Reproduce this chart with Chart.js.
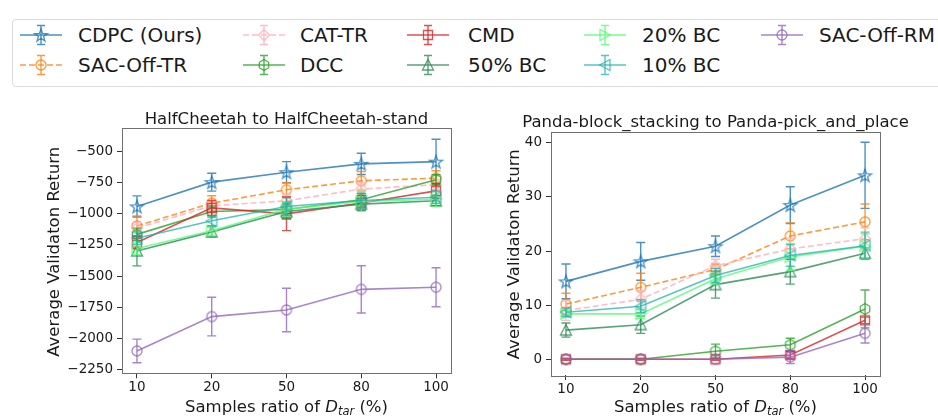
<!DOCTYPE html>
<html><head><meta charset="utf-8">
<script src="https://cdn.jsdelivr.net/npm/chart.js@4.4.0/dist/chart.umd.min.js"></script>
<style>
html,body{margin:0;padding:0;background:#fff;}
body{width:938px;height:419px;position:relative;overflow:hidden;font-family:"DejaVu Sans",sans-serif;}
#legendBox{position:absolute;left:12px;top:19px;width:960px;height:68px;border:1px solid #dcdcdc;border-radius:4px;box-sizing:border-box;}
.lg{position:absolute;font-size:20px;line-height:24px;color:#1a1a1a;white-space:nowrap;font-family:"DejaVu Sans",sans-serif;}
.hd{position:absolute;}
#c1{position:absolute;left:0;top:95px;}
#c2{position:absolute;left:469px;top:95px;}
</style></head><body>
<div id="legendBox"></div>
<canvas id="c1" width="469" height="324"></canvas>
<canvas id="c2" width="469" height="324"></canvas>
<script>
// ---------------- DATA ----------------
const categories = ['10', '20', '50', '80', '100'];
const seriesNames = ['CDPC (Ours)', 'SAC-Off-TR', 'CAT-TR', 'DCC', 'CMD', '50% BC', '20% BC', '10% BC', 'SAC-Off-RM'];

const hcTitle = 'HalfCheetah to HalfCheetah-stand';
const hcTicks = [-2250, -2000, -1750, -1500, -1250, -1000, -750, -500];
const hcCDPC      = [-940, -745, -665, -598, -580];
const hcCDPCErr   = [85, 72, 85, 85, 180];
const hcSACTR     = [-1097, -914, -806, -734, -713];
const hcSACTRErr  = [80, 60, 56, 75, 60];
const hcCATTR     = [-1115, -935, -895, -800, -766];
const hcCATTRErr  = [45, 40, 50, 50, 40];
const hcDCC       = [-1165, -981, -965, -887, -726];
const hcDCCErr    = [50, 45, 60, 50, 40];
const hcCMD       = [-1231, -952, -1000, -912, -815];
const hcCMDErr    = [50, 60, 135, 60, 60];
const hcBC50      = [-1298, -1145, -981, -922, -895];
const hcBC50Err   = [120, 40, 60, 50, 40];
const hcBC20      = [-1278, -1136, -962, -900, -882];
const hcBC20Err   = [50, 40, 60, 80, 60];
const hcBC10      = [-1196, -1056, -941, -893, -866];
const hcBC10Err   = [50, 40, 70, 60, 50];
const hcSACRM     = [-2102, -1826, -1773, -1607, -1590];
const hcSACRMErr  = [95, 155, 175, 190, 157];

const pdTitle = 'Panda-block_stacking to Panda-pick_and_place';
const pdTicks = [0, 10, 20, 30, 40];
const pdCDPC      = [14.4, 18.1, 20.9, 28.5, 34.0];
const pdCDPCErr   = [3.2, 3.5, 1.9, 3.4, 6.1];
const pdSACTR     = [10.2, 13.3, 16.6, 22.8, 25.4];
const pdSACTRErr  = [2.0, 2.6, 1.0, 2.4, 3.3];
const pdCATTR     = [9.0, 11.1, 17.3, 20.4, 22.3];
const pdCATTRErr  = [1.8, 1.6, 1.2, 2.0, 2.0];
const pdDCC       = [0, 0, 1.5, 2.7, 9.3];
const pdDCCErr    = [0, 0, 1.3, 1.2, 3.5];
const pdCMD       = [0, 0, 0, 0.8, 7.2];
const pdCMDErr    = [0.2, 0.2, 0.2, 0.6, 0.6];
const pdBC50      = [5.4, 6.4, 13.8, 16.2, 19.6];
const pdBC50Err   = [1.3, 1.6, 2.5, 2.3, 1.0];
const pdBC20      = [8.4, 8.4, 14.9, 18.9, 20.9];
const pdBC20Err   = [0.6, 0.8, 1.0, 2.5, 2.3];
const pdBC10      = [8.7, 9.8, 15.5, 19.2, 21.0];
const pdBC10Err   = [0.8, 1.2, 1.3, 2.0, 2.5];
const pdSACRM     = [0, 0, 0, 0.4, 4.8];
const pdSACRMErr  = [0, 0, 0, 1.2, 1.8];

const yLabel = 'Average Validaton Return';
const xLabelParts = ['Samples ratio of ', 'D', 'tar', ' (%)'];

// ---------------- STYLES ----------------
const styleList = [
  {color: 'rgba(31,119,180,0.8)',  marker: 'star',     dash: []},
  {color: 'rgba(255,127,14,0.8)',  marker: 'circle',   dash: [6, 3]},
  {color: 'rgba(255,182,193,0.9)', marker: 'diamond',  dash: [6, 3]},
  {color: 'rgba(44,160,44,0.8)',   marker: 'hexagon',  dash: []},
  {color: 'rgba(214,39,40,0.8)',   marker: 'square',   dash: []},
  {color: 'rgba(46,139,87,0.8)',   marker: 'triUp',    dash: []},
  {color: 'rgba(90,250,120,0.8)',  marker: 'triRight', dash: []},
  {color: 'rgba(32,178,170,0.75)', marker: 'triLeft',  dash: []},
  {color: 'rgba(148,103,189,0.8)', marker: 'circle',   dash: []},
];
const FONT = '"DejaVu Sans"';
const TXT = '#1a1a1a';

function poly(ctx, pts) {
  ctx.moveTo(pts[0][0], pts[0][1]);
  for (let k = 1; k < pts.length; k++) ctx.lineTo(pts[k][0], pts[k][1]);
  ctx.closePath();
}
function markerPath(ctx, shape, cx, cy) {
  ctx.beginPath();
  if (shape === 'circle') { ctx.arc(cx, cy, 5, 0, 2 * Math.PI); return; }
  if (shape === 'square') { ctx.rect(cx - 4.5, cy - 4.5, 9, 9); return; }
  let pts = [];
  if (shape === 'diamond') pts = [[0, -5.5], [5.5, 0], [0, 5.5], [-5.5, 0]];
  if (shape === 'star') {
    for (let k = 0; k < 10; k++) {
      const r = k % 2 === 0 ? 6.8 : 2.7;
      const a = -Math.PI / 2 + k * Math.PI / 5;
      pts.push([r * Math.cos(a), r * Math.sin(a) + 0.6]);
    }
  }
  if (shape === 'hexagon') {
    for (let k = 0; k < 6; k++) { const a = -Math.PI / 2 + k * Math.PI / 3; pts.push([5.4 * Math.cos(a), 5.4 * Math.sin(a)]); }
  }
  if (shape === 'triUp') pts = [[0, -5.5], [5.5, 5], [-5.5, 5]];
  if (shape === 'triRight') pts = [[5.5, 0], [-5, 5.5], [-5, -5.5]];
  if (shape === 'triLeft') pts = [[-5.5, 0], [5, 5.5], [5, -5.5]];
  poly(ctx, pts.map(p => [p[0] + cx, p[1] + cy]));
}
function drawMarker(ctx, st, cx, cy) {
  ctx.save();
  ctx.setLineDash([]);
  ctx.lineWidth = 1.3;
  ctx.strokeStyle = st.color;
  markerPath(ctx, st.marker, cx, cy);
  ctx.stroke();
  ctx.restore();
}
function markerImg(st) {
  const c = document.createElement('canvas');
  c.width = 20; c.height = 20;
  drawMarker(c.getContext('2d'), st, 10, 10);
  return c;
}

// ---------------- LEGEND ----------------
const legendCols = [[20, 78], [243, 300], [407, 468], [584, 642], [761, 819]];
const legendRows = [35, 65];
seriesNames.forEach((name, i) => {
  const col = legendCols[Math.floor(i / 2)], rowY = legendRows[i % 2];
  const st = styleList[i];
  const hc = document.createElement('canvas');
  hc.width = 42; hc.height = 26; hc.className = 'hd';
  hc.style.left = col[0] + 'px'; hc.style.top = (rowY - 13) + 'px';
  const g = hc.getContext('2d');
  g.strokeStyle = st.color; g.lineWidth = 1.6;
  g.setLineDash(st.dash);
  g.beginPath(); g.moveTo(0, 13); g.lineTo(42, 13); g.stroke();
  g.setLineDash([]); g.lineWidth = 1.4;
  g.beginPath();
  g.moveTo(21, 3.5); g.lineTo(21, 22.5);
  g.moveTo(17, 3.5); g.lineTo(25, 3.5);
  g.moveTo(17, 22.5); g.lineTo(25, 22.5);
  g.stroke();
  drawMarker(g, st, 21, 13);
  document.body.appendChild(hc);
  const t = document.createElement('div');
  t.className = 'lg'; t.textContent = name;
  t.style.left = col[1] + 'px'; t.style.top = (rowY - 12) + 'px';
  document.body.appendChild(t);
});

// ---------------- PLUGINS ----------------
const errorBarPlugin = {
  id: 'errbars',
  beforeDatasetDraw(chart, args) {
    const ds = chart.data.datasets[args.index];
    const ys = chart.scales.y, a = chart.chartArea, ctx = chart.ctx;
    ctx.save();
    ctx.beginPath(); ctx.rect(a.left, a.top, a.right - a.left, a.bottom - a.top); ctx.clip();
    ctx.strokeStyle = ds.borderColor; ctx.lineWidth = 1.4; ctx.setLineDash([]);
    ctx.beginPath();
    args.meta.data.forEach((pt, j) => {
      const v = ds.data[j].y, e = ds.errors[j];
      const y1 = ys.getPixelForValue(v + e), y2 = ys.getPixelForValue(v - e);
      ctx.moveTo(pt.x, y1); ctx.lineTo(pt.x, y2);
      ctx.moveTo(pt.x - 4.5, y1); ctx.lineTo(pt.x + 4.5, y1);
      ctx.moveTo(pt.x - 4.5, y2); ctx.lineTo(pt.x + 4.5, y2);
    });
    ctx.stroke();
    ctx.restore();
  }
};
const decorPlugin = {
  id: 'decor',
  afterDraw(chart, args, opts) {
    const ctx = chart.ctx, a = chart.chartArea;
    ctx.save();
    ctx.strokeStyle = '#707070'; ctx.lineWidth = 1;
    ctx.strokeRect(Math.round(a.left) + 0.5, Math.round(a.top) + 0.5, Math.round(a.right - a.left), Math.round(a.bottom - a.top));
    ctx.fillStyle = TXT;
    ctx.font = '16.5px ' + FONT; ctx.textAlign = 'center'; ctx.textBaseline = 'alphabetic';
    ctx.fillText(opts.title, (a.left + a.right) / 2, a.top - opts.titleGap);
    ctx.save();
    ctx.translate(opts.yLabelX, (a.top + a.bottom) / 2 + 1);
    ctx.rotate(-Math.PI / 2);
    ctx.textBaseline = 'middle';
    ctx.fillText(yLabel, 0, 0);
    ctx.restore();
    const f = 16.5;
    const parts = [
      {t: xLabelParts[0], font: f + 'px ' + FONT, dy: 0},
      {t: xLabelParts[1], font: 'italic ' + f + 'px ' + FONT, dy: 0},
      {t: xLabelParts[2], font: 'italic ' + (f * 0.7).toFixed(1) + 'px ' + FONT, dy: 3.5},
      {t: xLabelParts[3], font: f + 'px ' + FONT, dy: 0},
    ];
    let total = 0;
    parts.forEach(p => { ctx.font = p.font; p.w = ctx.measureText(p.t).width; total += p.w; });
    let x = (a.left + a.right) / 2 - total / 2;
    ctx.textAlign = 'left';
    parts.forEach(p => { ctx.font = p.font; ctx.fillText(p.t, x, opts.xLabelY + p.dy); x += p.w; });
    ctx.restore();
  }
};

// ---------------- CHARTS ----------------
function makeChart(id, cfg) {
  const datasets = seriesNames.map((name, i) => ({
    label: name,
    data: categories.map((c, j) => ({x: j, y: cfg.means[i][j]})),
    errors: cfg.errs[i],
    borderColor: styleList[i].color,
    backgroundColor: styleList[i].color,
    borderWidth: 1.6,
    borderDash: styleList[i].dash,
    pointStyle: markerImg(styleList[i]),
    pointRadius: 5,
    pointHoverRadius: 5,
    fill: false,
    tension: 0,
    order: seriesNames.length - i,
  }));
  const tickFont = {family: 'DejaVu Sans', size: 13.5};
  return new Chart(document.getElementById(id), {
    type: 'line',
    data: {datasets},
    plugins: [errorBarPlugin, decorPlugin],
    options: {
      responsive: false, animation: false, events: [],
      layout: {padding: {left: 0, right: cfg.padRight, top: cfg.padTop, bottom: 0}},
      plugins: {
        legend: {display: false}, tooltip: {enabled: false}, title: {display: false},
        decor: {title: cfg.title, titleGap: cfg.titleGap, yLabelX: cfg.yLabelX, xLabelY: cfg.xLabelY},
      },
      scales: {
        x: {
          type: 'linear', min: -0.2, max: 4.2,
          afterBuildTicks: s => { s.ticks = categories.map((c, j) => ({value: j})); },
          afterFit: s => { s.height = cfg.xAxisH; },
          ticks: {callback: v => categories[v], font: tickFont, color: TXT, padding: 1, maxRotation: 0, autoSkip: false},
          grid: {drawOnChartArea: false, drawTicks: true, tickLength: 5, tickColor: '#333', tickWidth: 1},
          border: {display: false},
        },
        y: {
          type: 'linear', min: cfg.yMin, max: cfg.yMax,
          afterBuildTicks: s => { s.ticks = cfg.ticks.map(v => ({value: v})); },
          afterFit: s => { s.width = cfg.yAxisW; },
          ticks: {callback: v => String(v).replace('-', '\u2212'), font: tickFont, color: TXT, padding: 4},
          grid: {drawOnChartArea: false, drawTicks: true, tickLength: 5, tickColor: '#333', tickWidth: 1},
          border: {display: false},
        },
      },
    },
  });
}

makeChart('c1', {
  title: hcTitle, ticks: hcTicks, yMin: -2282, yMax: -312,
  means: [hcCDPC, hcSACTR, hcCATTR, hcDCC, hcCMD, hcBC50, hcBC20, hcBC10, hcSACRM],
  errs: [hcCDPCErr, hcSACTRErr, hcCATTRErr, hcDCCErr, hcCMDErr, hcBC50Err, hcBC20Err, hcBC10Err, hcSACRMErr],
  padRight: 18, padTop: 33.3, xAxisH: 45.7, yAxisW: 122,
  titleGap: 4.5, yLabelX: 55, xLabelY: 316.5,
});
makeChart('c2', {
  title: pdTitle, ticks: pdTicks, yMin: -2.9, yMax: 42.1,
  means: [pdCDPC, pdSACTR, pdCATTR, pdDCC, pdCMD, pdBC50, pdBC20, pdBC10, pdSACRM],
  errs: [pdCDPCErr, pdSACTRErr, pdCATTRErr, pdDCCErr, pdCMDErr, pdBC50Err, pdBC20Err, pdBC10Err, pdSACRMErr],
  padRight: 58, padTop: 36.5, xAxisH: 44, yAxisW: 82,
  titleGap: 4.5, yLabelX: 46, xLabelY: 316.5,
});
</script>
</body></html>
